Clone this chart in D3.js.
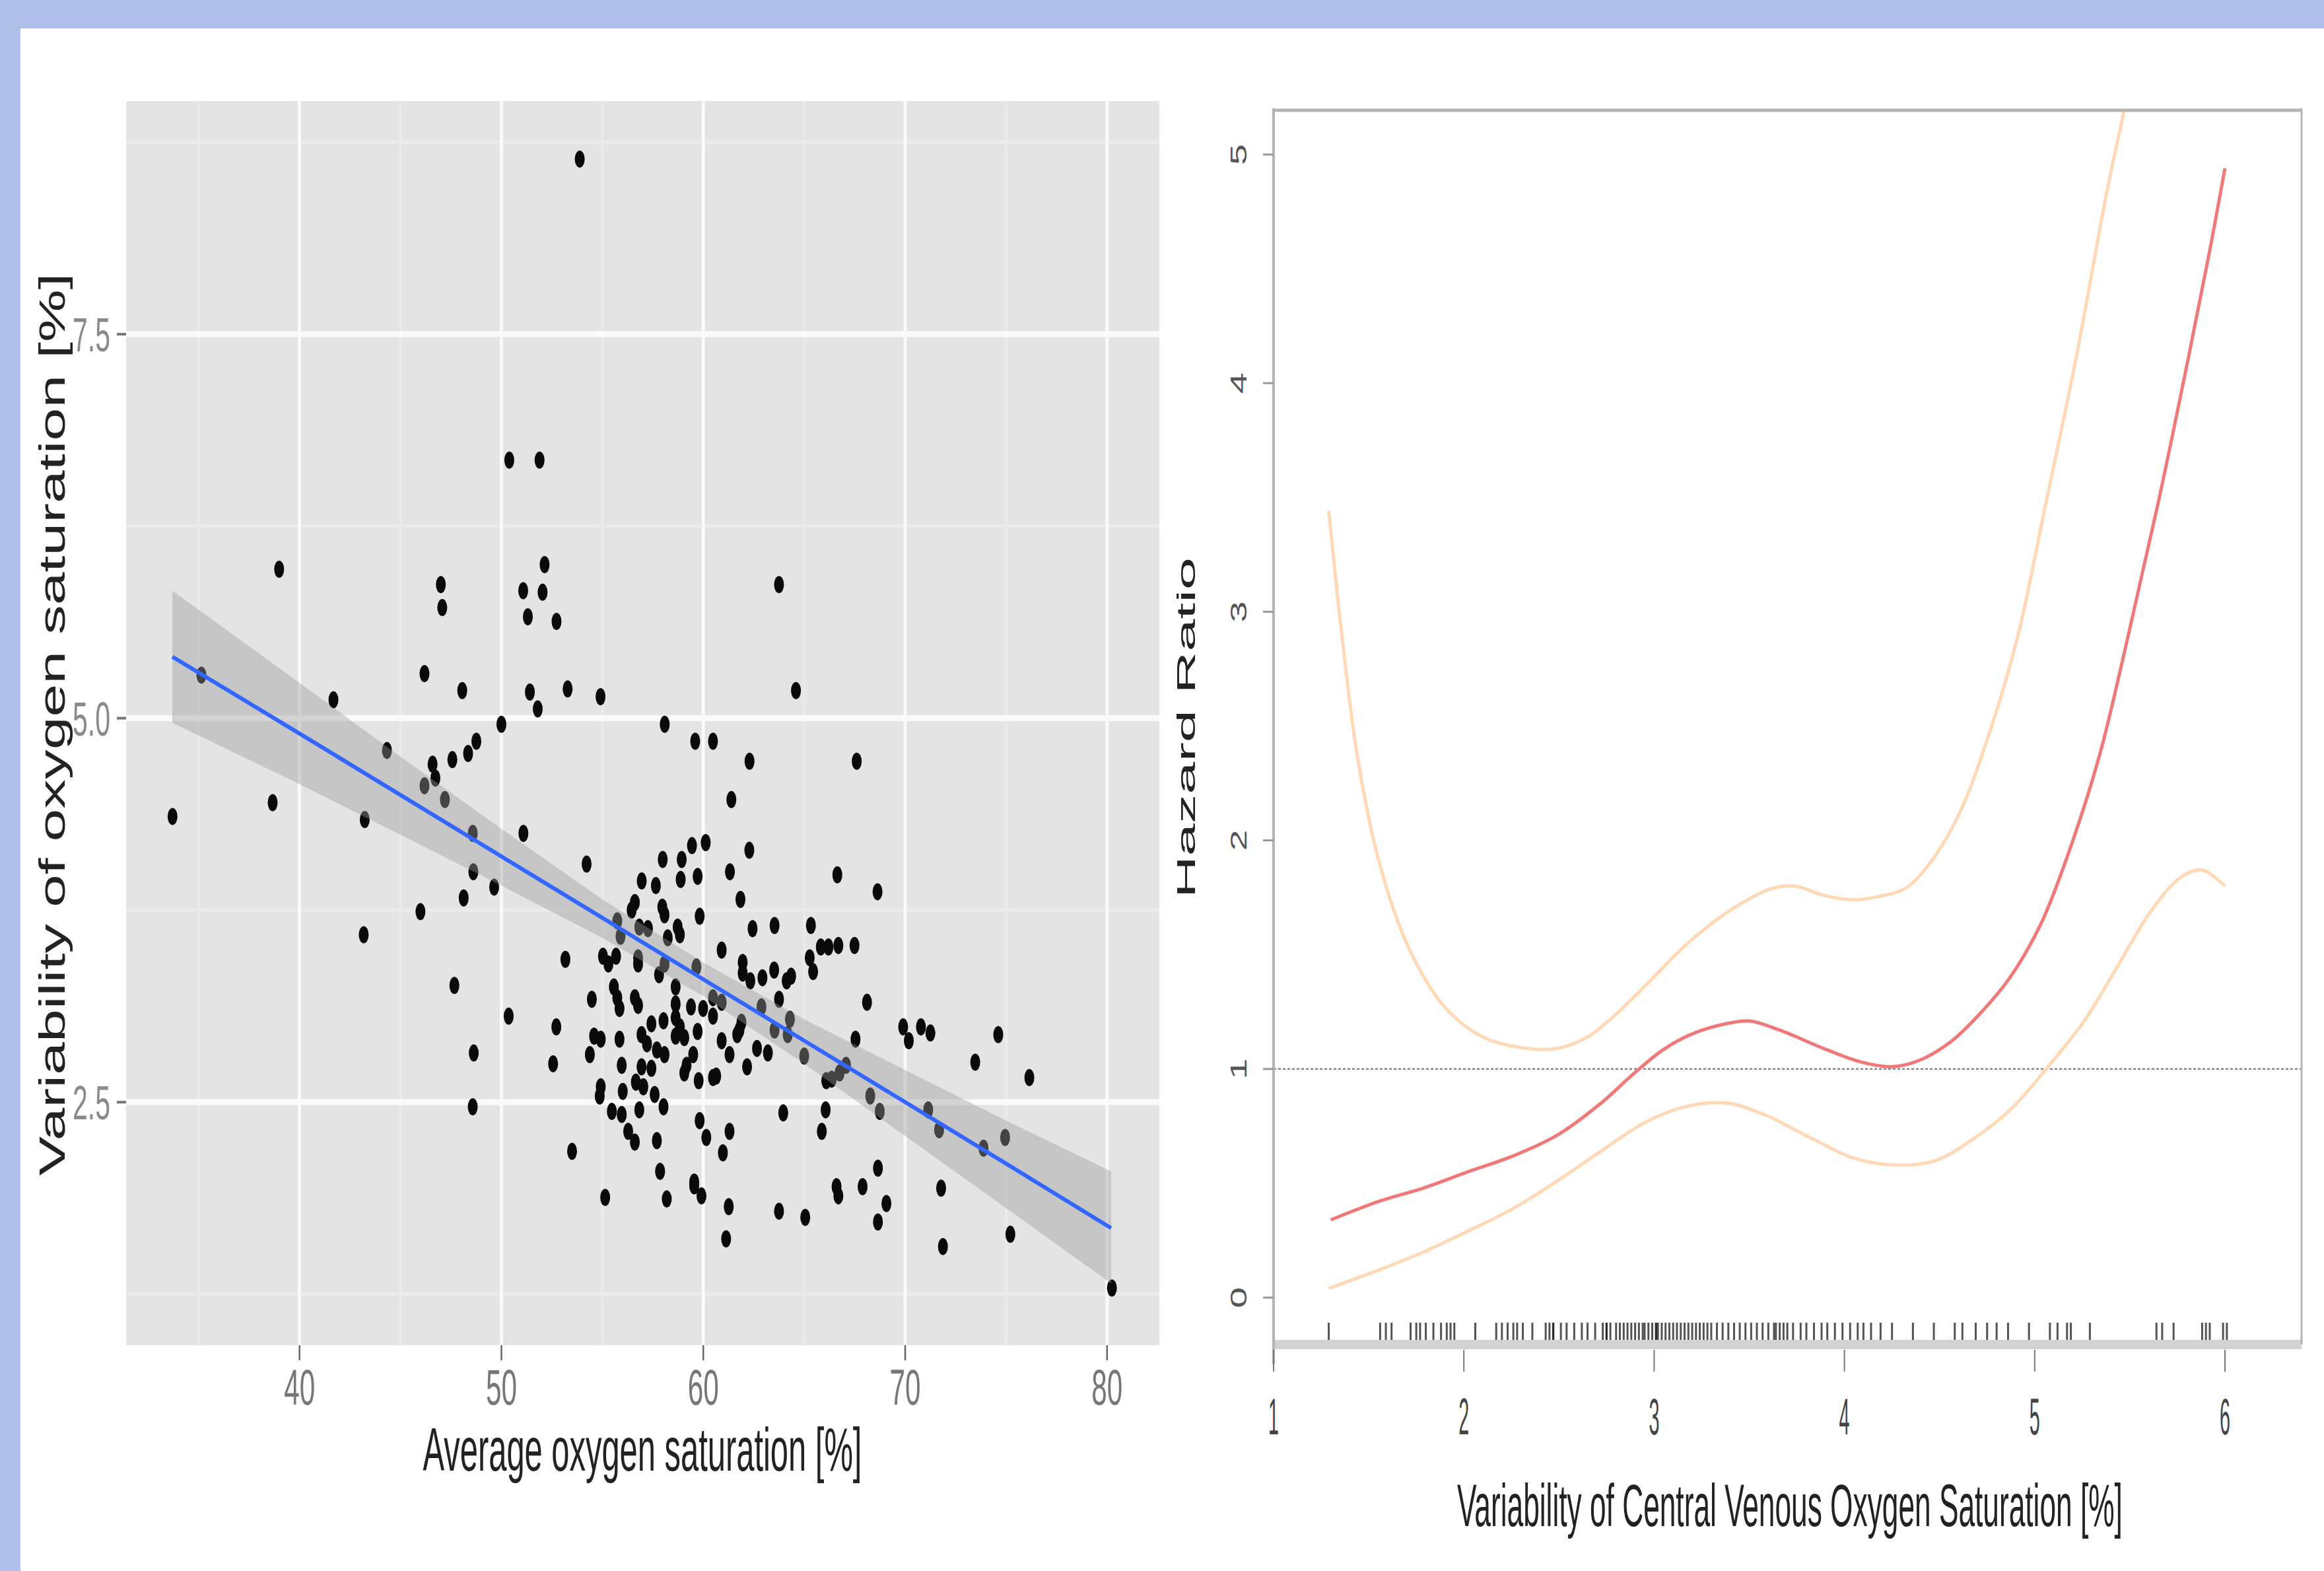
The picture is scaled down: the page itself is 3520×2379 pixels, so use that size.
<!DOCTYPE html>
<html>
<head>
<meta charset="utf-8">
<script src="https://cdn.jsdelivr.net/npm/d3@7"></script>
<style>
  body { margin: 0; background: #fff; }
  text { font-family: "Liberation Sans", Arial, sans-serif; }
</style>
</head>
<body>
<svg class="chart"></svg>
<script>
// left panel: scatter of average saturation vs its variability
const avgSat = [
  50.39, 51.89, 38.99, 47.0, 47.07, 52.14, 52.04, 51.08, 51.31, 52.73,
  35.14, 46.19, 48.06, 51.41, 51.80, 53.28, 41.68, 50.0, 44.33, 46.59,
  46.73, 46.19, 47.57, 48.35, 48.76, 47.2, 33.71, 38.67, 43.23, 48.58,
  51.09, 54.22, 48.61, 49.64, 48.13, 45.99, 43.18, 53.17, 47.67, 50.36,
  52.72, 48.63, 52.56, 48.58, 53.5, 53.88,
  63.75, 64.59, 54.91, 58.09, 59.6, 60.48, 62.29, 67.6, 61.39,
  59.44, 60.12, 62.28, 57.99, 58.93, 61.32, 56.95, 57.65, 58.88, 59.72,
  61.84, 56.61, 56.45, 57.97, 58.08, 59.82, 55.74, 55.90, 56.83, 57.26,
  58.73, 58.84, 58.24, 62.44, 63.53, 65.33, 60.91, 55.03, 55.68, 55.30,
  56.77, 56.77, 58.08, 57.81, 59.66, 61.95, 61.95, 62.33, 62.93, 63.51,
  64.13, 64.35, 65.27, 65.44, 54.48, 55.57, 55.74, 55.85, 56.61, 56.77,
  58.63, 58.63, 59.39, 59.99, 60.48, 60.48, 60.91, 63.75, 62.88, 58.63,
  57.43, 58.03, 58.84, 59.72, 61.89, 61.79, 61.68, 64.29, 63.53, 64.18,
  54.59, 54.92, 55.85, 56.94, 57.21, 58.63, 59.06, 57.70, 58.08, 60.91,
  61.30, 62.66, 63.20, 65.00, 54.38, 55.96, 56.94, 57.43, 59.17, 59.50,
  59.06, 62.17, 54.92, 54.87, 56.01, 56.66, 57.03, 57.59, 59.77, 60.48,
  60.64, 55.47, 55.96, 56.83, 58.03, 63.96, 59.82, 56.28, 56.61, 57.70,
  60.15, 61.30, 60.97, 57.86, 59.55,
  55.14, 58.19, 59.55, 59.91, 61.26, 61.13, 63.75, 65.05,
  66.64, 68.63, 65.82, 66.2, 66.69, 67.49, 68.11, 67.54, 69.9, 70.18,
  70.78, 71.25, 74.61, 73.47, 76.15, 67.07, 66.75, 66.36, 66.09, 68.27,
  66.06, 68.74, 65.87, 71.14, 71.68, 73.88, 74.95, 68.65, 66.6, 66.69,
  67.89, 69.07, 68.65, 71.78, 71.87, 75.21, 80.24
];
const varSat = [
  6.68, 6.68, 5.97, 5.87, 5.72, 6.0, 5.82, 5.83, 5.66, 5.63,
  5.28, 5.29, 5.18, 5.17, 5.06, 5.19, 5.12, 4.96, 4.79, 4.70,
  4.61, 4.56, 4.73, 4.77, 4.85, 4.47, 4.36, 4.45, 4.34, 4.25,
  4.25, 4.05, 4.0, 3.90, 3.83, 3.74, 3.59, 3.43, 3.26, 3.06,
  2.99, 2.82, 2.75, 2.47, 2.18, 8.64,
  5.87, 5.18, 5.14, 4.96, 4.85, 4.85, 4.72, 4.72, 4.47,
  4.17, 4.19, 4.14, 4.08, 4.08, 4.00, 3.94, 3.91, 3.95, 3.97,
  3.82, 3.80, 3.75, 3.77, 3.72, 3.71, 3.68, 3.58, 3.64, 3.63,
  3.64, 3.59, 3.57, 3.63, 3.65, 3.65, 3.49, 3.45, 3.45, 3.40,
  3.44, 3.40, 3.40, 3.33, 3.38, 3.41, 3.34, 3.29, 3.31, 3.36,
  3.29, 3.32, 3.44, 3.35, 3.17, 3.25, 3.18, 3.11, 3.18, 3.13,
  3.25, 3.14, 3.12, 3.11, 3.18, 3.06, 3.15, 3.17, 3.12, 3.05,
  3.01, 3.03, 2.99, 2.96, 3.02, 2.97, 2.94, 3.04, 2.97, 2.94,
  2.93, 2.91, 2.91, 2.94, 2.88, 2.93, 2.92, 2.84, 2.81, 2.90,
  2.81, 2.85, 2.82, 2.80, 2.81, 2.74, 2.73, 2.72, 2.74, 2.81,
  2.69, 2.73, 2.60, 2.54, 2.57, 2.63, 2.60, 2.55, 2.64, 2.66,
  2.67, 2.44, 2.42, 2.45, 2.47, 2.43, 2.38, 2.31, 2.24, 2.25,
  2.27, 2.31, 2.17, 2.05, 1.98,
  1.88, 1.87, 1.955, 1.89, 1.82, 1.61, 1.79, 1.75,
  3.98, 3.87, 3.51, 3.51, 3.52, 3.52, 3.15, 2.91, 2.99, 2.90,
  2.99, 2.95, 2.94, 2.76, 2.66, 2.74, 2.69, 2.65, 2.64, 2.54,
  2.45, 2.44, 2.31, 2.45, 2.32, 2.20, 2.27, 2.07, 1.95, 1.89,
  1.95, 1.84, 1.72, 1.94, 1.56, 1.64, 1.29
];

// linear fit and its confidence band
const fitX     = [33.7, 40, 45, 50, 55, 60, 65, 70, 75, 80.2];
const fitY     = [5.40, 4.90, 4.50, 4.10, 3.70, 3.30, 2.90, 2.50, 2.10, 1.68];
const fitUpper = [5.83, 5.23, 4.75, 4.28, 3.82, 3.41, 3.04, 2.71, 2.38, 2.05];
const fitLower = [4.97, 4.57, 4.24, 3.91, 3.57, 3.19, 2.75, 2.28, 1.81, 1.32];

// right panel: spline hazard ratio with CI
const hrX = [1.29, 1.36, 1.44, 1.55, 1.71, 1.90, 2.10, 2.33, 2.49, 2.65, 2.80, 2.96, 3.19, 3.43,
             3.62, 3.74, 3.89, 4.05, 4.21, 4.32, 4.44, 4.60, 4.75, 4.91, 5.06, 5.22, 5.38, 5.47];
const hrUpper = [3.44, 2.89, 2.37, 1.92, 1.53, 1.27, 1.14, 1.09, 1.09, 1.14, 1.24, 1.37, 1.56, 1.71,
                 1.79, 1.80, 1.76, 1.74, 1.76, 1.79, 1.89, 2.11, 2.44, 2.89, 3.48, 4.12, 4.84, 5.19];
const hrFitX = [1.30, 1.55, 1.79, 2.02, 2.26, 2.49, 2.72, 2.88, 3.04, 3.19, 3.39, 3.50, 3.66, 3.89,
                4.09, 4.25, 4.40, 4.56, 4.71, 4.87, 5.03, 5.18, 5.34, 5.49, 5.65, 5.81, 5.92, 6.0];
const hrFit = [0.34, 0.42, 0.48, 0.55, 0.62, 0.71, 0.85, 0.97, 1.08, 1.15, 1.20, 1.21, 1.17, 1.09,
               1.03, 1.01, 1.04, 1.12, 1.24, 1.40, 1.63, 1.95, 2.37, 2.89, 3.48, 4.12, 4.58, 4.94];
const hrLowX = [1.29, 1.55, 1.79, 2.02, 2.26, 2.49, 2.72, 2.96, 3.19, 3.39, 3.58, 3.82, 4.05, 4.28,
                4.48, 4.67, 4.87, 5.06, 5.26, 5.45, 5.61, 5.77, 5.88, 6.0];
const hrLower = [0.04, 0.12, 0.20, 0.29, 0.39, 0.51, 0.64, 0.77, 0.84, 0.85, 0.80, 0.70, 0.61, 0.58,
                 0.60, 0.69, 0.82, 1.00, 1.21, 1.47, 1.69, 1.84, 1.87, 1.80];

// rug of observed variability values
const rugX = [
  1.29, 1.56, 1.59, 1.62, 1.72, 1.75, 1.77, 1.80, 1.84, 1.88, 1.91, 1.93, 1.95,
  2.06, 2.17, 2.20, 2.23, 2.26, 2.28, 2.31, 2.36, 2.43, 2.45, 2.47, 2.47,
  2.51, 2.54, 2.58, 2.62, 2.65, 2.69, 2.73, 2.75, 2.75, 2.77,
  2.80, 2.82, 2.84, 2.86, 2.88, 2.90, 2.92, 2.94, 2.95, 2.97, 2.99, 3.01, 3.01,
  3.02, 3.04, 3.06, 3.08, 3.10, 3.12, 3.14, 3.16, 3.18, 3.20, 3.22, 3.24, 3.26,
  3.28, 3.30, 3.33, 3.36, 3.39, 3.42, 3.45, 3.48, 3.51, 3.54, 3.57, 3.60, 3.63,
  3.64, 3.66, 3.68, 3.70, 3.73, 3.77, 3.80, 3.84, 3.88, 3.91, 3.95, 3.99, 4.03,
  4.07, 4.10, 4.14, 4.19, 4.25, 4.36, 4.47, 4.58, 4.62, 4.69, 4.75, 4.80, 4.86,
  4.97, 5.08, 5.12, 5.17, 5.19, 5.29, 5.64, 5.67, 5.73, 5.88, 5.90, 5.92, 5.99, 6.01
];

const leftXTicks = [40, 50, 60, 70, 80];
const leftXMinor = [35, 45, 55, 65, 75];
const leftYTicks = [2.5, 5.0, 7.5];
const leftYLabels = ["2.5", "5.0", "7.5"];
const leftYMinor = [1.25, 3.75, 6.25, 8.75];
const rightXTicks = [1, 2, 3, 4, 5, 6];
const rightYTicks = [0, 1, 2, 3, 4, 5];

const W = 3520, H = 2379;
const svg = d3.select(".chart").attr("width", W).attr("height", H);

svg.append("rect").attr("width", W).attr("height", H).attr("fill", "#fff");
svg.append("rect").attr("width", W).attr("height", 43).attr("fill", "#afbeea");
svg.append("rect").attr("width", 31).attr("height", H).attr("fill", "#afbeea");

// the source picture is stretched: fit the text to a given length, keep glyph height of `size`
function label(sel, o) {
    const t = sel.append("text")
        .attr("text-anchor", o.anchor || "middle")
        .style("font-size", o.size + "px")
        .style("fill", o.fill || "#222")
        .text(o.text);
    let tr = `translate(${o.x},${o.y})`;
    if (o.rot) tr += ` rotate(${o.rot})`;
    if (o.len) {
        const k = o.len / t.node().getComputedTextLength();
        t.style("font-size", (o.size * k) + "px");
        tr += ` scale(1,${1 / k})`;
    }
    t.attr("transform", tr);
    return t;
}

// ---------- left panel ----------
const pL = {left: 191, right: 1756, top: 153, bottom: 2037};
const xL = d3.scaleLinear().domain([31.41, 82.59]).range([pL.left, pL.right]);
const yL = d3.scaleLinear().domain([0.918, 9.018]).range([pL.bottom, pL.top]);

const left = svg.append("g");
left.append("rect")
    .attr("x", pL.left).attr("y", pL.top)
    .attr("width", pL.right - pL.left).attr("height", pL.bottom - pL.top)
    .attr("fill", "#e4e4e4");

left.selectAll(".minorx").data(leftXMinor).enter().append("line")
    .attr("x1", d => xL(d)).attr("x2", d => xL(d))
    .attr("y1", pL.top).attr("y2", pL.bottom)
    .attr("stroke", "#ebebeb").attr("stroke-width", 3);
left.selectAll(".minory").data(leftYMinor).enter().append("line")
    .attr("x1", pL.left).attr("x2", pL.right)
    .attr("y1", d => yL(d)).attr("y2", d => yL(d))
    .attr("stroke", "#ebebeb").attr("stroke-width", 5);
left.selectAll(".gridx").data(leftXTicks).enter().append("line")
    .attr("x1", d => xL(d)).attr("x2", d => xL(d))
    .attr("y1", pL.top).attr("y2", pL.bottom)
    .attr("stroke", "#fafafa").attr("stroke-width", 5);
left.selectAll(".gridy").data(leftYTicks).enter().append("line")
    .attr("x1", pL.left).attr("x2", pL.right)
    .attr("y1", d => yL(d)).attr("y2", d => yL(d))
    .attr("stroke", "#fafafa").attr("stroke-width", 9);

const pts = avgSat.map((d, i) => ({x: d, y: varSat[i]}));
left.selectAll(".dot").data(pts).enter().append("ellipse")
    .attr("cx", d => xL(d.x)).attr("cy", d => yL(d.y))
    .attr("rx", 7.5).attr("ry", 13)
    .attr("fill", "#0a0a0a");

const band = fitX.map((d, i) => ({x: d, lo: fitLower[i], hi: fitUpper[i], y: fitY[i]}));
left.append("path").datum(band)
    .attr("d", d3.area().x(d => xL(d.x)).y0(d => yL(d.lo)).y1(d => yL(d.hi)))
    .attr("fill", "#999").attr("fill-opacity", 0.4);
left.append("path").datum(band)
    .attr("d", d3.line().x(d => xL(d.x)).y(d => yL(d.y)))
    .attr("fill", "none").attr("stroke", "#3366ff").attr("stroke-width", 6);

// axes of left panel
left.selectAll(".tickx").data(leftXTicks).enter().append("line")
    .attr("x1", d => xL(d)).attr("x2", d => xL(d))
    .attr("y1", pL.bottom).attr("y2", pL.bottom + 23)
    .attr("stroke", "#666").attr("stroke-width", 2.5);
left.selectAll(".ticky").data(leftYTicks).enter().append("line")
    .attr("x1", pL.left - 14).attr("x2", pL.left)
    .attr("y1", d => yL(d)).attr("y2", d => yL(d))
    .attr("stroke", "#777").attr("stroke-width", 4);
leftXTicks.forEach(d => label(left, {x: xL(d), y: 2127, text: String(d), size: 76, len: 47, fill: "#777"}));
leftYTicks.forEach((d, i) => label(left, {x: 167, y: yL(d) + 26, text: leftYLabels[i], size: 72, len: 57, anchor: "end", fill: "#8a8a8a"}));
label(left, {x: 973, y: 2227, text: "Average oxygen saturation [%]", size: 93, len: 665});
label(left, {x: 98, y: 1097, rot: -90, text: "Variability of oxygen saturation [%]", size: 55, len: 1367});

// ---------- right panel ----------
const pR = {left: 1929, right: 3486, top: 167, bottom: 2036};
const xR = d3.scaleLinear().domain([1, 6]).range([1929, 3370]);
const yR = d3.scaleLinear().domain([0, 5]).range([1965, 234]);

const right = svg.append("g");
svg.append("clipPath").attr("id", "clipR").append("rect")
    .attr("x", pR.left).attr("y", pR.top)
    .attr("width", pR.right - pR.left).attr("height", pR.bottom - pR.top);

right.append("line")
    .attr("x1", pR.left).attr("x2", pR.right)
    .attr("y1", yR(1)).attr("y2", yR(1))
    .attr("stroke", "#888").attr("stroke-width", 2.5).attr("stroke-dasharray", "4,3");

const curve = d3.curveCatmullRom.alpha(0.5);
const plot = right.append("g").attr("clip-path", "url(#clipR)");
plot.append("path").datum(hrX.map((d, i) => [d, hrUpper[i]]))
    .attr("d", d3.line().x(d => xR(d[0])).y(d => yR(d[1])).curve(curve))
    .attr("fill", "none").attr("stroke", "#ffd9b5").attr("stroke-width", 5);
plot.append("path").datum(hrLowX.map((d, i) => [d, hrLower[i]]))
    .attr("d", d3.line().x(d => xR(d[0])).y(d => yR(d[1])).curve(curve))
    .attr("fill", "none").attr("stroke", "#ffd9b5").attr("stroke-width", 5);
plot.append("path").datum(hrFitX.map((d, i) => [d, hrFit[i]]))
    .attr("d", d3.line().x(d => xR(d[0])).y(d => yR(d[1])).curve(curve))
    .attr("fill", "none").attr("stroke", "#f07878").attr("stroke-width", 5);

right.selectAll(".rug").data(rugX).enter().append("line")
    .attr("x1", d => xR(d)).attr("x2", d => xR(d))
    .attr("y1", 2003).attr("y2", 2034)
    .attr("stroke", "#1a1a1a").attr("stroke-opacity", 0.75).attr("stroke-width", 3);

// box
right.append("line").attr("x1", pR.left).attr("x2", pR.right).attr("y1", pR.top).attr("y2", pR.top)
    .attr("stroke", "#b4b4b4").attr("stroke-width", 5);
right.append("line").attr("x1", pR.left).attr("x2", pR.right).attr("y1", pR.bottom).attr("y2", pR.bottom)
    .attr("stroke", "#d2d2d2").attr("stroke-width", 14);
right.append("line").attr("x1", pR.left).attr("x2", pR.left).attr("y1", pR.top - 3).attr("y2", 2066)
    .attr("stroke", "#b4b4b4").attr("stroke-width", 4);
right.append("line").attr("x1", pR.right).attr("x2", pR.right).attr("y1", pR.top - 3).attr("y2", pR.bottom)
    .attr("stroke", "#b4b4b4").attr("stroke-width", 3);

right.selectAll(".rtx").data(rightXTicks).enter().append("line")
    .attr("x1", d => xR(d)).attr("x2", d => xR(d))
    .attr("y1", 2044).attr("y2", 2077)
    .attr("stroke", "#777").attr("stroke-width", 2);
right.selectAll(".rty").data(rightYTicks).enter().append("line")
    .attr("x1", 1913).attr("x2", pR.left)
    .attr("y1", d => yR(d)).attr("y2", d => yR(d))
    .attr("stroke", "#999").attr("stroke-width", 3);
rightXTicks.forEach(d => label(right, {x: xR(d), y: 2172, text: String(d), size: 77, len: 16, fill: "#444"}));
rightYTicks.forEach(d => label(right, {x: 1888, y: yR(d), rot: -90, text: String(d), size: 35, len: 32, fill: "#555"}));
label(right, {x: 2711, y: 2311, text: "Variability of Central Venous Oxygen Saturation [%]", size: 90, len: 1008});
label(right, {x: 1810, y: 1102, rot: -90, text: "Hazard Ratio", size: 39, len: 516});
</script>
</body>
</html>
